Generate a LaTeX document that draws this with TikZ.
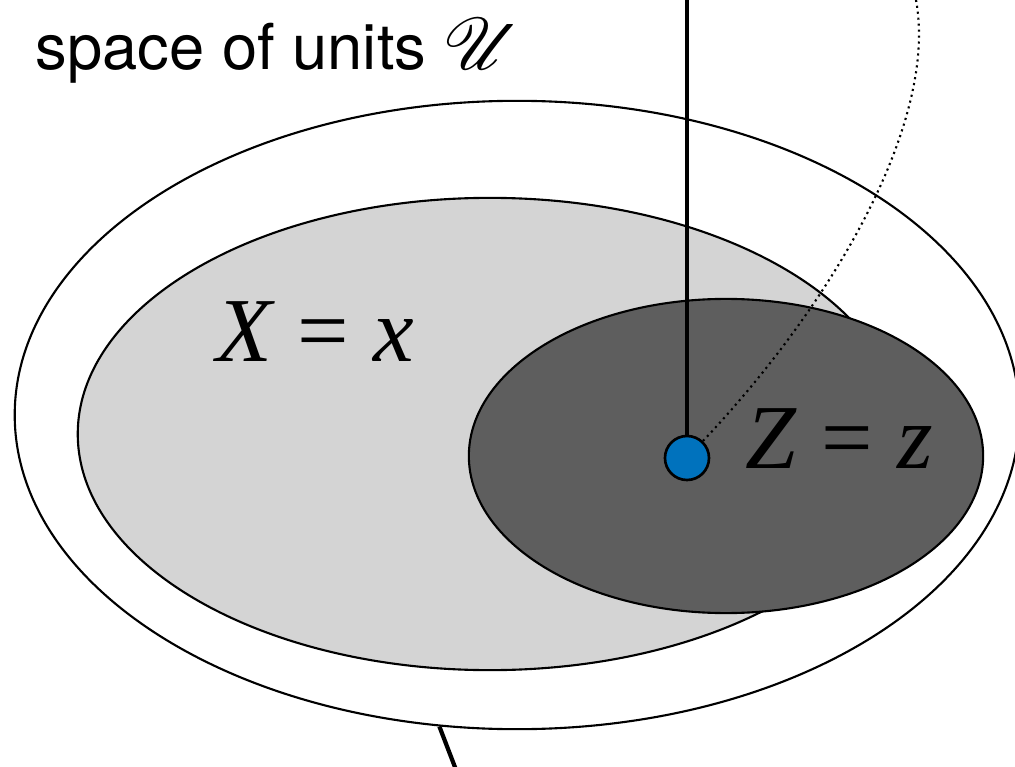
\documentclass[tikz,border=0pt]{standalone}
\usepackage{fontspec}
\usepackage{mathrsfs}
\setsansfont{TeX Gyre Heros}
\newfontfamily\tms{Liberation Serif}
\usetikzlibrary{shapes.geometric}
\definecolor{lightset}{RGB}{212,212,212}
\definecolor{darkset}{RGB}{94,94,94}
\definecolor{unitblue}{RGB}{0,114,189}

\begin{document}
\begin{tikzpicture}[x=0.01cm,y=-0.01cm,
    reg/.style={ellipse,draw,line width=0.6pt,inner sep=0pt},
    unitdot/.style={circle,draw,line width=0.75pt,fill=unitblue,inner sep=0pt,minimum size=0.44cm},
    eq/.style={anchor=base west,inner sep=0pt,font=\fontsize{26}{30}\selectfont\tms}]
  \useasboundingbox (0,0) rectangle (1015,767);
  \clip (0,0) rectangle (1015,767);
  % the three sets
  \node[reg,fill=white,minimum width=10.04cm,minimum height=6.28cm] (units) at (517,415) {};
  \node[reg,fill=lightset,minimum width=8.24cm,minimum height=4.72cm] (xset) at (490,434) {};
  \node[reg,fill=darkset,minimum width=5.14cm,minimum height=3.14cm] (zset) at (726,456) {};
  % labels
  \node[anchor=base west,inner sep=0pt,font=\sffamily\fontsize{18}{22}\selectfont] (title) at (35,70)
    {space of units {\fontsize{22}{26}\selectfont$\mathscr{U}$}};
  \node[eq] (xlab) at (216,361) {\itshape X\hspace{0.27em}\upshape=\hspace{0.27em}\itshape x};
  \node[eq] (zlab) at (745,468) {\itshape Z\hspace{0.27em}\upshape=\hspace{0.27em}\itshape z};
  % the unit and its lines
  \node[unitdot] (unit) at (687,458) {};
  \coordinate (linetop) at (687,-5);
  \coordinate (dotend) at (915,-5);
  \coordinate (tickend) at (458,775);
  \draw[line width=1.2pt] (unit) -- (linetop);
  \draw[line width=0.6pt,dash pattern=on 0.6pt off 1.1pt] (unit) .. controls (845,290) and (940,110) .. (dotend);
  \draw[line width=1.2pt] (units.256) -- (tickend);
\end{tikzpicture}
\end{document}
